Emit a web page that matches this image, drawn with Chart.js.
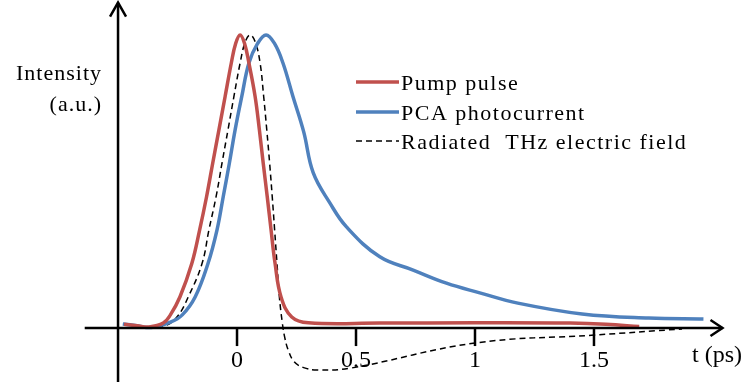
<!DOCTYPE html>
<html>
<head>
<meta charset="utf-8">
<script src="https://cdn.jsdelivr.net/npm/chart.js@4/dist/chart.umd.min.js"></script>
<style>
  body { margin: 0; background: #fff; }
  #wrap { width: 747px; height: 382px; position: relative; }
</style>
</head>
<body>
<div id="wrap"><canvas id="pulse"></canvas></div>
<script>
// time axis (ps) and normalised intensities
const pumpT = [-0.475, -0.42, -0.37, -0.31, -0.28, -0.24, -0.19, -0.157, -0.128, -0.102, -0.076, -0.05, -0.024, -0.006, 0.013, 0.032, 0.05, 0.076, 0.094, 0.11, 0.127, 0.143, 0.16, 0.185, 0.23, 0.3, 0.6, 1.0, 1.4, 1.55, 1.69];
const pumpV = [0.013, 0.008, 0.004, 0.017, 0.045, 0.106, 0.22, 0.335, 0.448, 0.563, 0.676, 0.79, 0.904, 0.97, 1.0, 0.97, 0.904, 0.79, 0.676, 0.563, 0.448, 0.335, 0.22, 0.106, 0.038, 0.018, 0.017, 0.018, 0.017, 0.013, 0.005];

const pcaT = [-0.48, -0.42, -0.36, -0.28, -0.23, -0.176, -0.122, -0.084, -0.058, -0.032, -0.008, 0.02, 0.05, 0.086, 0.122, 0.158, 0.193, 0.235, 0.28, 0.32, 0.39, 0.46, 0.60, 0.74, 0.88, 1.02, 1.18, 1.45, 1.73, 1.96];
const pcaV = [0.014, 0.008, 0.002, 0.02, 0.045, 0.106, 0.22, 0.335, 0.448, 0.563, 0.676, 0.79, 0.904, 0.97, 1.0, 0.97, 0.904, 0.79, 0.67, 0.53, 0.427, 0.345, 0.243, 0.198, 0.153, 0.12, 0.085, 0.048, 0.034, 0.031];

const thzT = [-0.42, -0.36, -0.30, -0.25, -0.205, -0.147, -0.118, -0.088, -0.063, -0.038, -0.013, 0.013, 0.034, 0.055, 0.077, 0.097, 0.112, 0.125, 0.137, 0.148, 0.158, 0.168, 0.178, 0.19, 0.2, 0.215, 0.24, 0.28, 0.336, 0.475, 1.0, 1.5, 1.87];
const thzV = [0.006, 0.002, 0.008, 0.04, 0.106, 0.22, 0.335, 0.448, 0.563, 0.676, 0.79, 0.904, 0.975, 1.0, 0.975, 0.904, 0.79, 0.676, 0.563, 0.448, 0.335, 0.22, 0.106, 0.02, -0.03, -0.075, -0.115, -0.135, -0.143, -0.137, -0.051, -0.024, -0.003];

const seriesNames = ['Pump pulse', 'PCA photocurrent', 'Radiated  THz electric field'];
const tickValues = [0, 0.5, 1, 1.5];
const tickLabels = ['0', '0.5', '1', '1.5'];

function toPoints(ts, vs) {
    let pts = [];
    for (let i = 0; i < ts.length; i++) {
        pts.push({ x: ts[i], y: vs[i] });
    }
    return pts;
}

const serif = "'Liberation Serif', 'Times New Roman', serif";

// axes with arrows, ticks, titles and legend drawn by hand
const axesPlugin = {
    id: 'axesPlugin',
    afterDraw(chart) {
        const ctx = chart.ctx;
        const xs = chart.scales.x;
        const ys = chart.scales.y;
        const x0 = xs.getPixelForValue(-0.64);
        const x1 = xs.getPixelForValue(2.04);
        const yAxisX = xs.getPixelForValue(-0.5);
        const y0 = ys.getPixelForValue(0);
        const yTop = ys.getPixelForValue(1.11);
        ctx.save();
        ctx.strokeStyle = '#000';
        ctx.fillStyle = '#000';
        ctx.lineWidth = 2.5;
        ctx.setLineDash([]);
        // x axis
        ctx.beginPath();
        ctx.moveTo(x0, y0);
        ctx.lineTo(x1, y0);
        ctx.stroke();
        ctx.beginPath();
        ctx.moveTo(x1 - 12, y0 - 8);
        ctx.lineTo(x1, y0);
        ctx.lineTo(x1 - 12, y0 + 8);
        ctx.stroke();
        // y axis
        ctx.beginPath();
        ctx.moveTo(yAxisX, chart.height);
        ctx.lineTo(yAxisX, yTop);
        ctx.stroke();
        ctx.beginPath();
        ctx.moveTo(yAxisX - 8, yTop + 14);
        ctx.lineTo(yAxisX, yTop);
        ctx.lineTo(yAxisX + 8, yTop + 14);
        ctx.stroke();
        // ticks
        ctx.font = '24px ' + serif;
        ctx.textAlign = 'center';
        ctx.textBaseline = 'alphabetic';
        tickValues.forEach((v, i) => {
            const px = xs.getPixelForValue(v);
            ctx.beginPath();
            ctx.moveTo(px, y0);
            ctx.lineTo(px, y0 + 18);
            ctx.stroke();
            ctx.fillText(tickLabels[i], px, y0 + 39);
        });
        ctx.textAlign = 'left';
        ctx.fillText('t (ps)', 692, y0 + 34);
        // y title
        ctx.font = '22px ' + serif;
        ctx.letterSpacing = '1px';
        ctx.textAlign = 'right';
        ctx.fillText('Intensity', 102, 80);
        ctx.fillText('(a.u.)', 102, 111);
        // legend
        ctx.textAlign = 'left';
        ctx.letterSpacing = '1.5px';
        const rows = [82, 112, 141];
        chart.data.datasets.forEach((ds, i) => {
            ctx.beginPath();
            ctx.strokeStyle = ds.borderColor;
            ctx.lineWidth = ds.borderWidth;
            ctx.setLineDash(ds.borderDash || []);
            ctx.moveTo(356, rows[i]);
            ctx.lineTo(399, rows[i]);
            ctx.stroke();
            ctx.fillText(ds.label, 401, rows[i] + 8);
        });
        ctx.restore();
    }
};

const ctx = document.getElementById('pulse').getContext('2d');
const chart = new Chart(ctx, {
    type: 'line',
    data: {
        datasets: [{
            label: seriesNames[0],
            data: toPoints(pumpT, pumpV),
            borderColor: '#C0504D',
            borderWidth: 3.5,
        }, {
            label: seriesNames[1],
            data: toPoints(pcaT, pcaV),
            borderColor: '#4F81BD',
            borderWidth: 3.5,
        }, {
            label: seriesNames[2],
            data: toPoints(thzT, thzV),
            borderColor: '#000',
            borderWidth: 1.5,
            borderDash: [6, 4],
        }]
    },
    options: {
        responsive: true,
        maintainAspectRatio: false,
        devicePixelRatio: 1,
        animation: false,
        layout: { padding: 0 },
        elements: {
            point: { radius: 0 },
            line: { tension: 0.4, fill: false, capBezierPoints: false }
        },
        plugins: {
            legend: { display: false },
            tooltip: { enabled: false }
        },
        scales: {
            x: { type: 'linear', min: -0.996, max: 2.143, display: false },
            y: { type: 'linear', min: -0.184, max: 1.119, display: false }
        }
    },
    plugins: [axesPlugin]
});
</script>
</body>
</html>
